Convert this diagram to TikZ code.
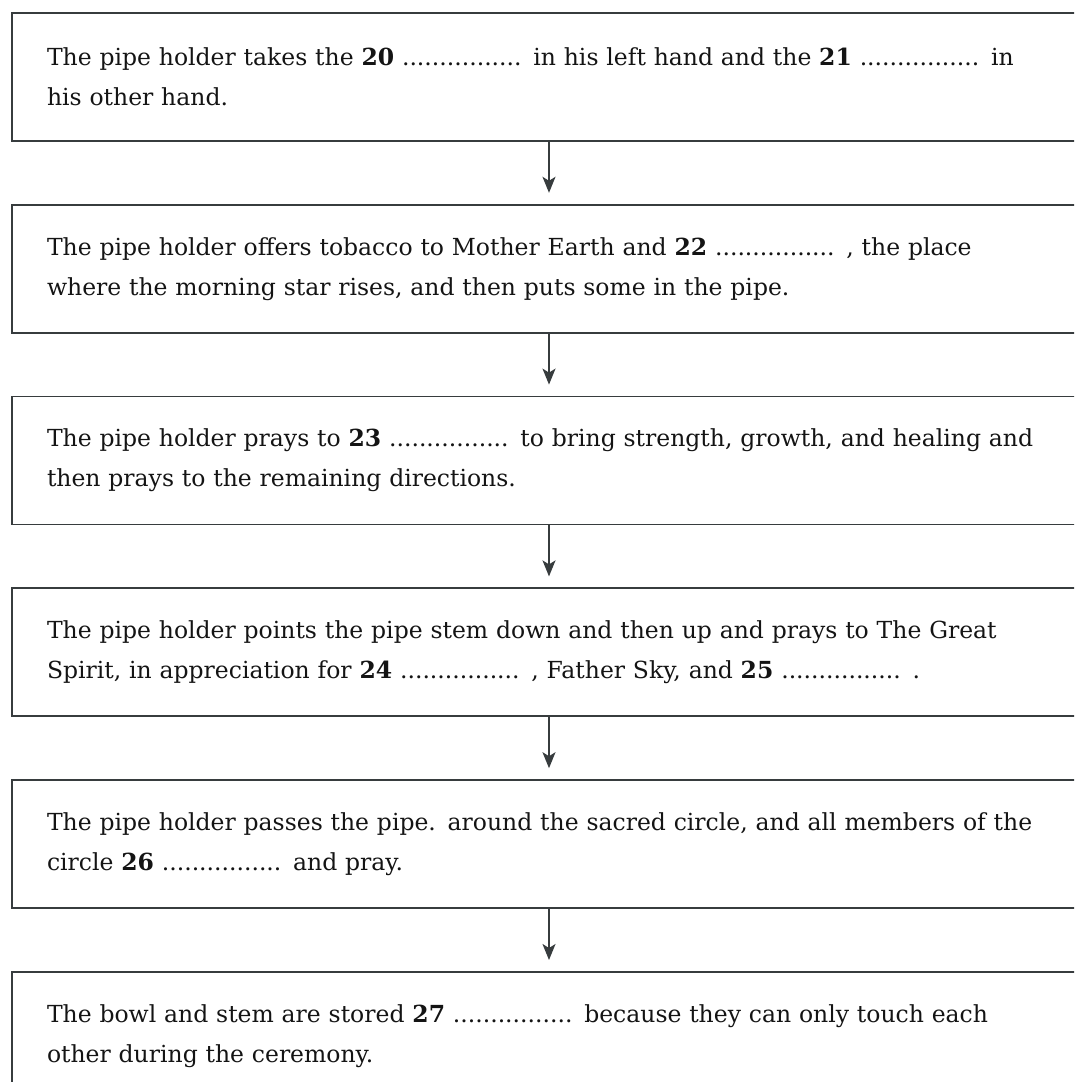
\documentclass[tikz,border=0pt]{standalone}
\usepackage{fontspec}
\setmainfont{DejaVu Serif}
\usetikzlibrary{arrows.meta,positioning}
\definecolor{boxgray}{RGB}{55,60,62}
\definecolor{inkblack}{RGB}{20,20,20}

\begin{document}
\begin{tikzpicture}[x=1pt,y=1pt,
    stepbox/.style={draw=boxgray, line width=1.8pt, rectangle, anchor=north,
        minimum width=1074pt, minimum height=128pt, text width=1004pt,
        inner xsep=35pt, inner ysep=0pt, align=left,
        font=\fontsize{23.5}{40}\selectfont, text=inkblack},
    flow/.style={draw=boxgray, line width=1.7pt,
        -{Stealth[length=16pt,width=13pt,inset=4pt]}, shorten >=11pt}]
    % page frame, boxes run off the right edge
    \clip (0,0) rectangle (1074,-1082);

    % Steps of the ceremony
    \node[stepbox] (take) at (549,-12)
        {The pipe holder takes the \textbf{20} ................ in his left hand and the \textbf{21} ................ in\\
         his other hand.};
    \node[stepbox, below=62pt of take] (offer)
        {The pipe holder offers tobacco to Mother Earth and \textbf{22} ................ , the place\\
         where the morning star rises, and then puts some in the pipe.};
    \node[stepbox, below=62pt of offer] (pray)
        {The pipe holder prays to \textbf{23} ................ to bring strength, growth, and healing and\\
         then prays to the remaining directions.};
    \node[stepbox, below=62pt of pray] (point)
        {The pipe holder points the pipe stem down and then up and prays to The Great\\
         Spirit, in appreciation for \textbf{24} ................ , Father Sky, and \textbf{25} ................ .};
    \node[stepbox, below=62pt of point] (pass)
        {The pipe holder passes the pipe. around the sacred circle, and all members of the\\
         circle \textbf{26} ................ and pray.};
    \node[stepbox, below=62pt of pass] (store)
        {The bowl and stem are stored \textbf{27} ................ because they can only touch each\\
         other during the ceremony.};

    % Arrows between steps
    \foreach \from/\to in {take/offer, offer/pray, pray/point, point/pass, pass/store}
        \draw[flow] (\from.south) -- (\to.north);
\end{tikzpicture}
\end{document}
